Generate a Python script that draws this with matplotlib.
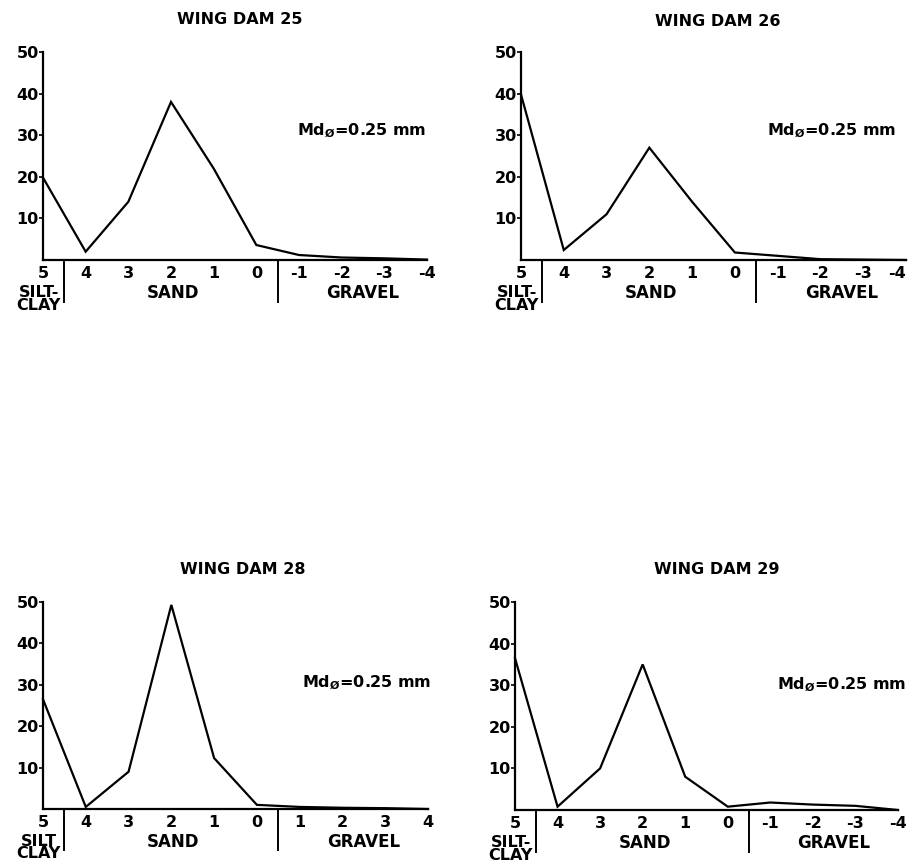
import matplotlib
matplotlib.use("Agg")
import matplotlib.pyplot as plt
from matplotlib.transforms import blended_transform_factory
from matplotlib.lines import Line2D

plt.rcParams['font.family'] = ['DejaVu Sans']
plt.rcParams['font.weight'] = 'bold'
plt.rcParams['mathtext.fontset'] = 'custom'
plt.rcParams['mathtext.rm'] = 'DejaVu Sans:bold'
plt.rcParams['mathtext.bf'] = 'DejaVu Sans:bold'
plt.rcParams['mathtext.default'] = 'bf'

# phi size classes (x positions)
phi = [5, 4, 3, 2, 1, 0, -1, -2, -3, -4]
tick_labels_std = ["5", "4", "3", "2", "1", "0", "-1", "-2", "-3", "-4"]
tick_labels_28 = ["5", "4", "3", "2", "1", "0", "1", "2", "3", "4"]
y_ticks = [10, 20, 30, 40, 50]

# percent weight per phi class
wd25 = [19.8, 2.0, 14.0, 38.0, 22.0, 3.6, 1.2, 0.6, 0.4, 0.1]
wd26 = [39.8, 2.4, 11.0, 27.0, 14.0, 1.8, 1.0, 0.2, 0.1, 0.0]
wd28 = [26.5, 0.5, 9.0, 49.3, 12.3, 1.0, 0.5, 0.3, 0.2, 0.0]
wd29 = [36.5, 0.8, 10.0, 35.0, 8.0, 0.8, 1.8, 1.3, 1.0, 0.0]

titles = ["WING DAM 25", "WING DAM 26", "WING DAM 28", "WING DAM 29"]
median_label = r"Md$_{\O}$=0.25 mm"
class_labels = ["SILT-\nCLAY", "SAND", "GRAVEL"]
class_labels_28 = ["SILT\nCLAY", "SAND", "GRAVEL"]

W, H = 911, 861
fig = plt.figure(figsize=(W / 100, H / 100), dpi=100)

def px_axes(l, r, t, b):
    return [l / W, 1 - b / H, (r - l) / W, (b - t) / H]

panels = [
    dict(rect=px_axes(43, 427, 52, 260), data=wd25, ticks=tick_labels_std,
         classes=class_labels, title=titles[0], tpos=(240, 20), md=(-0.95, 31)),
    dict(rect=px_axes(521, 906, 52, 260), data=wd26, ticks=tick_labels_std,
         classes=class_labels, title=titles[1], tpos=(718, 22), md=(-0.75, 31)),
    dict(rect=px_axes(43, 428, 602, 809), data=wd28, ticks=tick_labels_28,
         classes=class_labels_28, title=titles[2], tpos=(243, 570), md=(-1.05, 30.5)),
    dict(rect=px_axes(515, 898, 602, 810), data=wd29, ticks=tick_labels_std,
         classes=class_labels, title=titles[3], tpos=(717, 570), md=(-1.15, 30)),
]

FS = 11.5
for i, p in enumerate(panels):
    ax = fig.add_axes(p["rect"])
    ax.plot(phi, p["data"], color="black", lw=1.6, solid_joinstyle="miter", clip_on=False)
    ax.set_xlim(5, -4)
    ax.set_ylim(0, 50)
    for s in ["top", "right"]:
        ax.spines[s].set_visible(False)
    for s in ["left", "bottom"]:
        ax.spines[s].set_linewidth(1.6)
    ax.set_yticks(y_ticks)
    ax.set_yticklabels([str(v) for v in y_ticks], fontsize=FS, fontweight="bold")
    ax.tick_params(axis="y", length=3, width=1.2, pad=0)
    ax.set_xticks(phi)
    labs = ax.set_xticklabels(p["ticks"], fontsize=FS, fontweight="bold")
    if i == 1:
        labs[-1].set_horizontalalignment("right")
    ax.tick_params(axis="x", length=0, pad=4)
    tr = blended_transform_factory(ax.transData, ax.transAxes)
    # class labels
    ax.text(5.1, -0.12, p["classes"][0], transform=tr, ha="center", va="top",
            fontsize=FS, fontweight="bold", linespacing=0.8)
    ax.text(1.95, -0.115, p["classes"][1], transform=tr, ha="center", va="top",
            fontsize=12, fontweight="bold")
    ax.text(-2.5, -0.115, p["classes"][2], transform=tr, ha="center", va="top",
            fontsize=12, fontweight="bold")
    # separators
    for xs in (4.5, -0.5):
        ax.add_line(Line2D([xs, xs], [0, -0.2], transform=tr, color="black",
                           lw=1.4, clip_on=False))
    ax.text(p["md"][0], p["md"][1], median_label, ha="left", va="center",
            fontsize=FS, fontweight="bold")
    fig.text(p["tpos"][0] / W, 1 - p["tpos"][1] / H, p["title"], ha="center",
             va="center", fontsize=11.5, fontweight="bold")

fig.savefig("out.png", dpi=100, facecolor="white")
